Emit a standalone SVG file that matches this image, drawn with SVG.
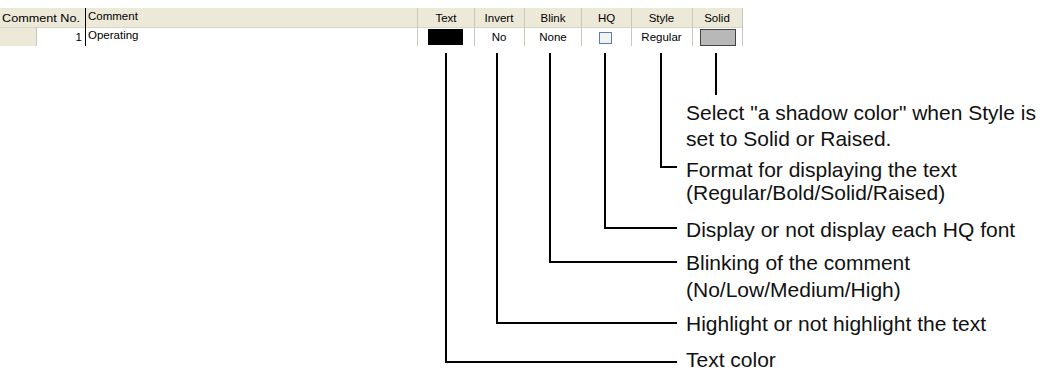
<svg xmlns="http://www.w3.org/2000/svg" width="1045" height="371" viewBox="0 0 1045 371">
<style>
.hdr{fill:#ECE9D8}
.sep{stroke:#C9C7BA;stroke-width:1}
.tt{font-family:"Liberation Sans",Arial,sans-serif;font-size:11.5px;fill:#000}
.lbl{font-family:"Liberation Sans",Arial,sans-serif;font-size:21px;fill:#111}
.ln{fill:none;stroke:#000;stroke-width:2}
</style>
<g id="table">
<rect x="0" y="8" width="742" height="19" class="hdr"/>
<rect x="0" y="27" width="742" height="19" fill="#fff"/>
<rect x="0" y="27" width="36" height="19" class="hdr"/>
<line x1="0" y1="27.5" x2="742" y2="27.5" stroke="#D8D5C6"/>
<line x1="36.5" y1="27" x2="36.5" y2="46" class="sep"/>
<line x1="85.5" y1="8" x2="85.5" y2="46" stroke="#000" stroke-width="1"/>
<line x1="417.5" y1="8" x2="417.5" y2="46" class="sep"/>
<line x1="474.5" y1="8" x2="474.5" y2="46" class="sep"/>
<line x1="524.5" y1="8" x2="524.5" y2="46" class="sep"/>
<line x1="581.5" y1="8" x2="581.5" y2="46" class="sep"/>
<line x1="631.5" y1="8" x2="631.5" y2="46" class="sep"/>
<line x1="692.5" y1="8" x2="692.5" y2="46" class="sep"/>
<line x1="742.5" y1="8" x2="742.5" y2="46" class="sep"/>
<text class="tt" x="2" y="22" textLength="78" lengthAdjust="spacingAndGlyphs">Comment No.</text>
<text class="tt" x="88" y="20">Comment</text>
<text class="tt" x="446" y="22" text-anchor="middle">Text</text>
<text class="tt" x="499" y="22" text-anchor="middle">Invert</text>
<text class="tt" x="553" y="22" text-anchor="middle">Blink</text>
<text class="tt" x="606.5" y="22" text-anchor="middle">HQ</text>
<text class="tt" x="661.5" y="22" text-anchor="middle">Style</text>
<text class="tt" x="717" y="22" text-anchor="middle">Solid</text>
<text class="tt" x="82" y="41" text-anchor="end">1</text>
<text class="tt" x="88" y="39">Operating</text>
<rect x="428" y="29" width="35" height="16" fill="#000"/>
<text class="tt" x="499" y="41" text-anchor="middle">No</text>
<text class="tt" x="553" y="41" text-anchor="middle">None</text>
<rect x="599.5" y="32.5" width="12" height="11" fill="#F2F2F2" stroke="#5A7EA8" stroke-width="1"/>
<text class="tt" x="661.5" y="41" text-anchor="middle">Regular</text>
<rect x="700.5" y="29.5" width="35" height="16" fill="#B8B8B8" stroke="#444" stroke-width="1"/>
</g>
<g id="connectors">
<polyline class="ln" points="446,53 446,362 677,362"/>
<polyline class="ln" points="497,53 497,323 677,323"/>
<polyline class="ln" points="550,53 550,262 677,262"/>
<polyline class="ln" points="605,53 605,228 677,228"/>
<polyline class="ln" points="661,53 661,167 677,167"/>
<line class="ln" x1="716" y1="53" x2="716" y2="95"/>
</g>
<g id="label-solid">
<text class="lbl" x="686" y="120">Select "a shadow color" when Style is</text>
<text class="lbl" x="686" y="146">set to Solid or Raised.</text>
</g>
<g id="label-style">
<text class="lbl" x="686" y="176.5">Format for displaying the text</text>
<text class="lbl" x="686" y="199.5">(Regular/Bold/Solid/Raised)</text>
</g>
<g id="label-hq">
<text class="lbl" x="686" y="237">Display or not display each HQ font</text>
</g>
<g id="label-blink">
<text class="lbl" x="686" y="270">Blinking of the comment</text>
<text class="lbl" x="686" y="297">(No/Low/Medium/High)</text>
</g>
<g id="label-invert">
<text class="lbl" x="686" y="330.5">Highlight or not highlight the text</text>
</g>
<g id="label-text">
<text class="lbl" x="686" y="367">Text color</text>
</g>
</svg>
